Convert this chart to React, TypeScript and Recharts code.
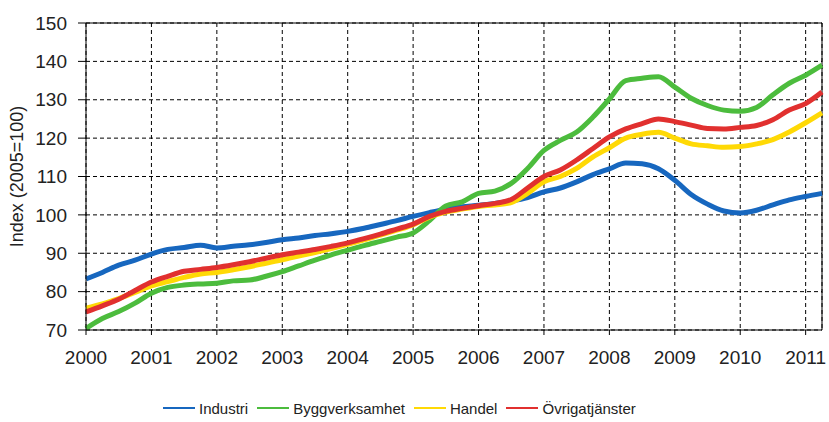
import { LineChart, Line, XAxis, YAxis, CartesianGrid, Legend, ReferenceLine } from 'recharts';

// kvartal (år + andel)
const periods = [
  2000, 2000.25, 2000.5, 2000.75, 2001, 2001.25, 2001.5, 2001.75,
  2002, 2002.25, 2002.5, 2002.75, 2003, 2003.25, 2003.5, 2003.75,
  2004, 2004.25, 2004.5, 2004.75, 2005, 2005.25, 2005.5, 2005.75,
  2006, 2006.25, 2006.5, 2006.75, 2007, 2007.25, 2007.5, 2007.75,
  2008, 2008.25, 2008.5, 2008.75, 2009, 2009.25, 2009.5, 2009.75,
  2010, 2010.25, 2010.5, 2010.75, 2011, 2011.25,
];

const industri = [
  83.3, 85.0, 86.9, 88.2, 89.8, 91.0, 91.5, 92.1,
  91.4, 91.8, 92.2, 92.8, 93.5, 94.0, 94.6, 95.1,
  95.7, 96.5, 97.5, 98.5, 99.6, 100.6, 101.5, 102.1,
  102.5, 103.0, 103.6, 104.5, 106.0, 107.0, 108.6, 110.5,
  112.0, 113.5, 113.3, 112.0, 109.0, 105.3, 102.8, 101.0,
  100.5, 101.2, 102.6, 103.9, 104.8, 105.6,
];

const bygg = [
  70.4, 73.0, 74.8, 77.0, 79.6, 81.1, 81.7, 82.0,
  82.2, 82.8, 83.0, 84.0, 85.2, 86.7, 88.2, 89.6,
  90.8, 92.0, 93.1, 94.2, 95.3, 98.5, 102.3, 103.4,
  105.6, 106.2, 108.2, 112.1, 116.8, 119.4, 121.6, 125.5,
  130.2, 135.0, 135.6, 136.0, 133.3, 130.4, 128.5, 127.3,
  127.0, 128.0, 131.3, 134.3, 136.4, 139.0,
];

const handel = [
  75.7, 76.8, 78.2, 79.8, 81.5, 82.6, 83.7, 84.6,
  85.0, 85.7, 86.5, 87.4, 88.3, 89.3, 90.2, 91.2,
  92.3, 93.5, 94.7, 96.0, 97.4, 99.4, 100.7, 101.5,
  102.2, 102.6, 103.2, 105.6, 108.6, 110.0, 112.1, 115.1,
  117.5, 120.0, 121.0, 121.5, 120.0, 118.5, 118.0, 117.6,
  117.8, 118.5, 119.6, 121.6, 124.0, 126.6,
];

const ovriga = [
  74.7, 76.3, 78.0, 80.3, 82.5, 84.0, 85.3, 85.8,
  86.3, 87.0, 87.8, 88.7, 89.6, 90.3, 91.0, 91.8,
  92.7, 93.8, 95.0, 96.3, 97.6, 99.6, 100.9, 101.7,
  102.4, 103.0, 104.0, 107.0, 110.0, 111.7, 114.3, 117.3,
  120.3, 122.4, 123.8, 125.0, 124.3, 123.4, 122.5, 122.4,
  122.8, 123.3, 124.8, 127.3, 129.0, 132.0,
];

const yearTicks = [2000, 2001, 2002, 2003, 2004, 2005, 2006, 2007, 2008, 2009, 2010, 2011];
const indexTicks = [70, 80, 90, 100, 110, 120, 130, 140, 150];

const series = [
  { key: 'industri', name: 'Industri', color: '#1767bf' },
  { key: 'bygg', name: 'Byggverksamhet', color: '#4cbc3d' },
  { key: 'handel', name: 'Handel', color: '#ffd905' },
  { key: 'ovriga', name: 'Övrigatjänster', color: '#e1302f' },
];

const data = periods.map((t, i) => ({
  t,
  industri: industri[i],
  bygg: bygg[i],
  handel: handel[i],
  ovriga: ovriga[i],
}));

const FONT = '"Liberation Sans", Arial, sans-serif';

function LegendRow() {
  return (
    <div style={{ height: 52, display: 'flex', alignItems: 'center', paddingLeft: 163, paddingTop: 24, boxSizing: 'border-box', fontFamily: FONT, fontSize: 15, color: '#222' }}>
      {series.map((s) => (
        <div key={s.key} style={{ display: 'flex', alignItems: 'center', marginRight: 9 }}>
          <span style={{ display: 'inline-block', width: 32, height: 2, background: s.color, marginRight: 4 }} />
          <span>{s.name}</span>
        </div>
      ))}
    </div>
  );
}

export default function App() {
  return (
    <div style={{ position: 'absolute', left: 0, top: 0, width: 829, height: 422, background: '#fff' }}>
      <LineChart width={829} height={422} data={data} margin={{ top: 23, right: 7, bottom: 0, left: 0 }}>
        <CartesianGrid stroke="#000" strokeDasharray="4 3" />
        <XAxis
          dataKey="t"
          type="number"
          domain={[2000, 2011.25]}
          ticks={yearTicks}
          allowDecimals={false}
          height={40}
          tickSize={5}
          tickMargin={16}
          stroke="#000"
          tick={{ fill: '#222', fontSize: 19, fontFamily: FONT }}
        />
        <YAxis
          type="number"
          domain={[70, 150]}
          ticks={indexTicks}
          width={86}
          tickSize={8}
          tickMargin={11}
          stroke="#000"
          tick={{ fill: '#222', fontSize: 19, fontFamily: FONT }}
          label={{ value: 'Index (2005=100)', angle: -90, position: 'insideLeft', offset: 17, style: { textAnchor: 'middle', fill: '#222', fontSize: 18, fontFamily: FONT } }}
        />
        <ReferenceLine y={150} stroke="#000" strokeWidth={1} />
        <ReferenceLine x={2011.25} stroke="#000" strokeWidth={1} />
        {series.map((s) => (
          <Line
            key={s.key}
            dataKey={s.key}
            name={s.name}
            type="monotone"
            stroke={s.color}
            strokeWidth={5}
            dot={false}
            isAnimationActive={false}
          />
        ))}
        <Legend verticalAlign="bottom" content={() => <LegendRow />} />
      </LineChart>
    </div>
  );
}
